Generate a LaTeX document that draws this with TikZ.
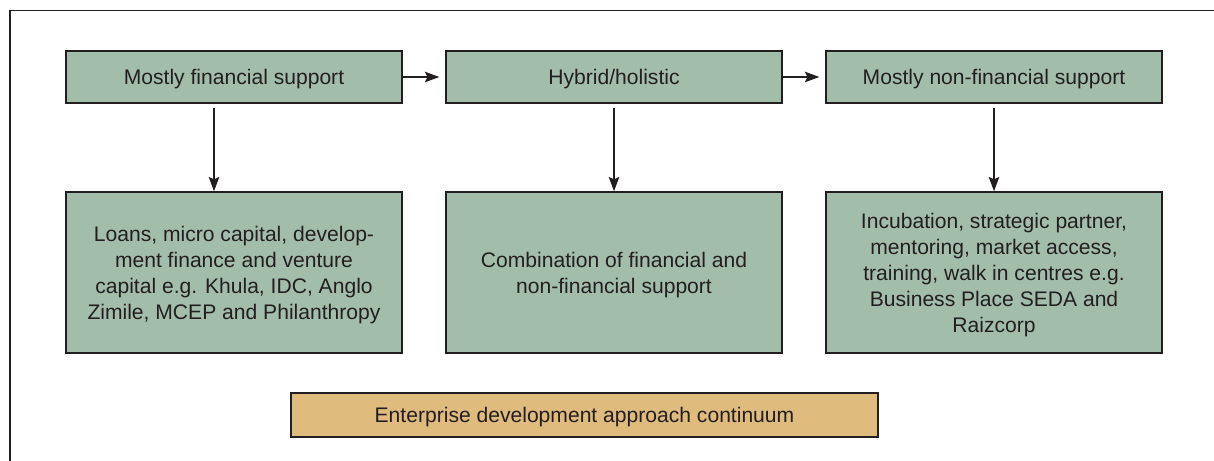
\documentclass[tikz,border=0pt]{standalone}
\usepackage{fontspec}
\setmainfont{Liberation Sans}
\usepackage{tikz}
\usetikzlibrary{positioning,arrows.meta}
\definecolor{supportgreen}{RGB}{162,190,171}
\definecolor{continuumtan}{RGB}{224,187,126}
\definecolor{inkgrey}{RGB}{35,31,32}

\begin{document}
\begin{tikzpicture}[
    basebox/.style={rectangle,draw=inkgrey,fill=supportgreen,line width=0.9pt,minimum width=8.4cm,inner sep=0pt,text=inkgrey,font=\fontsize{15}{18.5}\selectfont},
    typebox/.style={basebox,minimum height=1.3cm,text height=11pt,text depth=0pt},
    detailbox/.style={basebox,minimum height=4.025cm,align=center,text depth=-5.6pt},
    bandbox/.style={basebox,fill=continuumtan,minimum width=14.675cm,minimum height=1.1cm,text height=11pt,text depth=0pt},
    flow/.style={-{Stealth[length=3.6mm,width=2.6mm,inset=0.6mm]},line width=1.3pt,draw=inkgrey}
]
    \useasboundingbox (0,0) rectangle (30.35,11.525);
    % Outer frame (left and top edges only)
    \draw[line width=0.9pt,draw=inkgrey] (0.25,0) -- (0.25,11.26) -- (30.35,11.26);

    % Approach types
    \node[typebox] (fin) at (5.85,9.6) {Mostly financial support};
    \node[typebox] (hyb) at (15.35,9.6) {Hybrid/holistic};
    \node[typebox] (nonfin) at (24.85,9.6) {Mostly non-financial support};

    % Examples of each approach
    \node[detailbox] (finx) at (5.85,4.7125) {Loans, micro capital, develop-\\ment finance and venture\\capital e.g. Khula, IDC, Anglo\\Zimile, MCEP and Philanthropy};
    \node[detailbox] (hybx) at (15.35,4.7125) {Combination of financial and\\non-financial support};
    \node[detailbox] (nonfinx) at (24.85,4.7125) {Incubation, strategic partner,\\mentoring, market access,\\training, walk in centres e.g.\\Business Place SEDA and\\Raizcorp};

    \node[bandbox] (band) at (14.6125,1.15) {Enterprise development approach continuum};

    \draw[flow,shorten >=1.5mm] (fin) -- (hyb);
    \draw[flow,shorten >=1.5mm] (hyb) -- (nonfin);

    \draw[flow,shorten <=1mm] ([xshift=-5mm]fin.south) -- ([xshift=-5mm]finx.north);
    \draw[flow,shorten <=1mm] (hyb) -- (hybx);
    \draw[flow,shorten <=1mm] (nonfin) -- (nonfinx);
\end{tikzpicture}
\end{document}
